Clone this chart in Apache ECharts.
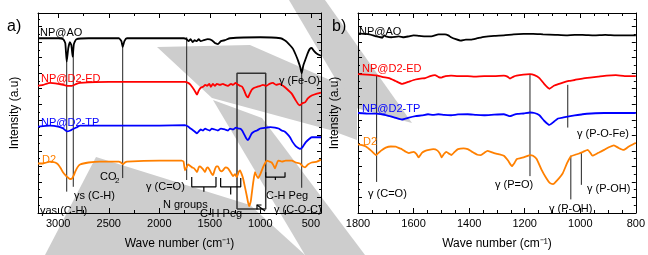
<!DOCTYPE html>
<html>
<head>
<meta charset="utf-8">
<script src="https://cdn.jsdelivr.net/npm/echarts@6/dist/echarts.min.js"></script>
<style>
html, body { margin: 0; padding: 0; background: #fff; }
#chart { width: 648px; height: 255px; }
</style>
</head>
<body>
<div id="chart"></div>
<script>
// FTIR spectra, [wave number, offset intensity]; a) full range, b) 1800-800 zoom
const aoA = [[3200,180],[3000,180],[2950,179],[2930,175],[2916,156],[2900,170],[2885,176],[2870,173],[2857,161],[2845,174],[2820,179],[2700,180],[2400,180],[2375,177],[2362,171],[2345,177],[2320,180],[1760,180],[1729,179],[1710,177],[1690,179],[1670,176],[1650,178],[1630,177],[1610,179],[1590,177],[1560,178],[1520,179],[1480,178],[1450,175],[1420,174],[1390,177],[1350,178],[1300,180],[1000,181],[800,180],[760,178],[736,176],[700,172],[677,169],[650,163],[627,157],[605,150],[591,144],[575,152],[558,157],[530,165],[510,169],[492,170],[470,167],[440,164],[400,162]];
const edA = [[3200,131],[3150,132],[3081,134],[3000,133],[2950,132],[2913,131],[2864,131],[2820,133],[2784,134],[2500,135],[2000,135],[1746,135],[1715,134],[1690,132],[1676,130],[1650,126],[1627,122],[1610,126],[1590,129],[1567,130],[1545,132],[1528,131],[1505,133],[1490,130],[1470,133],[1449,131],[1430,133],[1400,132],[1370,133],[1350,132],[1320,131],[1290,133],[1271,132],[1245,134],[1220,132],[1201,131],[1180,130],[1160,126],[1140,121],[1122,119],[1105,123],[1085,127],[1060,129],[1033,130],[1000,131],[974,132],[940,131],[910,133],[875,134],[845,132],[806,133],[776,131],[740,128],[690,123],[650,116],[625,112],[608,111],[585,113],[558,114],[530,118],[492,121],[440,123],[400,124]];
const tpA = [[3200,89],[3150,89.5],[3081,90],[3000,89],[2950,87],[2913,84],[2880,85],[2864,86],[2820,88],[2784,90],[2500,90],[2000,90],[1746,90.5],[1715,89],[1690,87],[1676,86],[1650,84],[1627,82],[1610,84],[1590,86],[1567,85],[1545,87],[1528,86],[1500,85],[1480,87],[1450,86],[1420,85],[1390,87],[1350,86],[1320,85],[1300,87],[1270,86],[1240,88],[1215,87],[1201,87],[1180,85],[1160,81],[1140,77],[1122,75],[1105,78],[1085,82],[1060,84],[1033,85],[1000,87],[974,87.5],[940,88],[900,88.5],[856,88],[820,87],[790,85],[760,84],[730,81],[707,78],[680,73],[650,69],[625,67],[608,66],[590,67],[570,70],[550,73],[520,76],[492,78],[460,78],[430,78],[400,78]];
const d2A = [[3200,51],[3150,51],[3081,53],[3030,52],[3002,50],[2975,46],[2953,42],[2920,38],[2903,36.5],[2880,35],[2864,35.5],[2845,39],[2834,42],[2810,47],[2784,50],[2700,52],[2587,53],[2400,53],[2380,52],[2359,50],[2340,52],[2319,53],[2000,54],[1780,54],[1760,53],[1746,44],[1730,47],[1716,50],[1700,49],[1676,47],[1655,46],[1640,44],[1627,42],[1610,47],[1597,48],[1575,46],[1560,44],[1548,42],[1532,46],[1518,47],[1500,44],[1485,41],[1469,39],[1450,45],[1435,48],[1419,48],[1400,44],[1385,43],[1370,44],[1345,47],[1320,46],[1295,42],[1271,38],[1250,40],[1234,37],[1215,42],[1201,44],[1185,40],[1172,36],[1155,28],[1135,18],[1112,7],[1095,12],[1085,20],[1070,32],[1053,42],[1040,39],[1023,36],[1000,40],[974,47],[955,51],[937,54],[910,53],[888,52],[870,49],[855,46],[840,50],[825,54],[786,53],[750,54],[690,54],[650,52],[608,51],[580,48],[558,47],[530,50],[492,52],[440,53],[400,55]];

const aoB = [[1800,185],[1780,184.5],[1759,184],[1735,182],[1713,180.5],[1705,183],[1700,182],[1680,181],[1653,182],[1635,181],[1617,182],[1600,183],[1582,182.5],[1560,182],[1536,182],[1510,184],[1487,184],[1475,183],[1465,181],[1448,179],[1430,177.5],[1412,178.5],[1394,178.5],[1370,180],[1346,181.5],[1310,182.5],[1275,183],[1240,184],[1204,184.5],[1170,184.5],[1134,184],[1090,183.5],[1051,183],[1020,183.5],[992,183.5],[950,183],[910,183.5],[872,183],[840,183],[800,183]];
const edB = [[1800,143],[1770,142.5],[1735,141.7],[1710,140],[1688,139],[1665,136],[1642,133],[1620,135],[1593,137.5],[1575,138.5],[1558,139],[1540,141],[1523,142],[1510,140],[1500,139.5],[1485,141],[1465,141.5],[1440,141],[1405,141],[1380,140.5],[1346,141],[1310,141],[1275,141.5],[1262,140.5],[1253,138.5],[1240,140.5],[1229,141.5],[1205,142.5],[1181,143],[1165,142],[1147,139],[1130,133],[1111,128],[1095,131],[1076,133],[1060,134.5],[1041,136],[1020,137],[992,138.5],[965,139.5],[935,140.5],[905,141.5],[872,142],[840,141],[800,141]];
const tpB = [[1800,103],[1770,102.5],[1735,102.3],[1700,100.7],[1670,98.5],[1642,96.3],[1620,98],[1593,99.7],[1570,100.5],[1548,101.7],[1530,101],[1511,101.7],[1490,101],[1465,100.7],[1440,101.5],[1405,101.7],[1375,101],[1346,100.7],[1310,101.3],[1275,101.7],[1262,100.5],[1253,99.7],[1240,101],[1225,102],[1204,102.5],[1181,103.5],[1165,103],[1147,100.7],[1130,95],[1111,90.7],[1095,94],[1080,97.3],[1060,98.5],[1041,99.5],[1020,100.5],[992,101.7],[960,102.5],[914,103],[870,103],[840,103],[800,103]];
const d2B = [[1800,70.7],[1785,70],[1770,68.3],[1752,64],[1735,59.7],[1718,64],[1700,67.3],[1682,68.5],[1664,68.3],[1650,66.5],[1642,65.7],[1628,63],[1617,61.7],[1600,63],[1590,61],[1582,57.3],[1570,62],[1558,64],[1545,65],[1529,65.7],[1515,64.5],[1505,61],[1499,57.3],[1490,61],[1482,63],[1472,61],[1464,59.7],[1452,63],[1440,65.7],[1420,66.5],[1405,65.7],[1392,63.5],[1381,61.7],[1370,60],[1358,59.7],[1345,62],[1334,64],[1322,63],[1310,61.7],[1292,60.5],[1275,59],[1260,54],[1246,48.3],[1236,52],[1228,55.7],[1215,56.5],[1204,57.3],[1192,58.5],[1181,59.7],[1170,59],[1157,55.7],[1140,45],[1122,35.7],[1110,31],[1098,29.7],[1085,33],[1063,41],[1048,51],[1034,58.3],[1018,60],[1004,61.3],[990,63],[973,65],[964,62],[956,59],[935,62],[914,65],[895,68],[879,69.7],[862,67],[844,65],[825,68.5],[800,72.3]];

// band marker lines: [wave number, top, bottom]
const markA = [[2916,157,22],[2851,166,27],[2362,172,36],[1729,181,34],[591,146,26]];
const markB = [[1733,142,32],[1181,143,38],[1045,132,88],[1034,59,14],[996,62,29]];
// boxed region of a): [x1, x2, y1, y2]
const boxA = [1231, 947, 4, 144];
// brackets: [x1, x2, top, bottom, stem]
const bracketsA = [[1679,1439,37,27,22],[1393,1194,36,27,19],[947,756,42,37,34]];

const FONT = '"Liberation Sans", Arial, sans-serif';
const BLACK = '#000000', RED = '#ff0000', BLUE = '#0000ff', ORANGE = '#ff8000';

// text annotations: [text, x, y, colour, size]
const labels = [
  ['a)', 7, 27, BLACK, 16], ['b)', 332, 27, BLACK, 16],
  ['NP@AO', 40, 33, BLACK], ['NP@D2-ED', 41, 79, RED], ['NP@D2-TP', 41, 123, BLUE], ['D2', 42, 160, ORANGE],
  ['CO', 100, 177, BLACK], ['2', 115, 181, BLACK, 8],
  ['γs (C-H)', 74, 196, BLACK], ['γas (C-H)', 40, 211, BLACK], ['γ (C=O)', 146, 187, BLACK],
  ['N groups', 163, 205, BLACK], ['C-H Peg', 200, 214, BLACK], ['C-H Peg', 266, 196, BLACK],
  ['γ (C-O-C)', 274, 210, BLACK], ['γ (Fe-O)', 279, 81, BLACK],
  ['NP@AO', 359, 32, BLACK], ['NP@D2-ED', 362, 69, RED], ['NP@D2-TP', 362, 109, BLUE], ['D2', 363, 142, ORANGE],
  ['γ (C=O)', 368, 194, BLACK], ['γ (P=O)', 495, 185, BLACK], ['γ (P-O-Fe)', 577, 134, BLACK],
  ['γ (P-OH)', 549, 209, BLACK], ['γ (P-OH)', 587, 189, BLACK]
];

// grey watermark behind the plot
const watermark = [
  [[289,0],[325,0],[412,123],[352,107]],
  [[157,47],[250,45],[330,80],[357,95],[357,140],[330,130],[212,98]],
  [[213,100],[262,118],[365,255],[305,255]],
  [[45,255],[96,157],[250,205],[305,255]]
];

const chart = echarts.init(document.getElementById('chart'));

function spectrum (data, color, idx) {
  return { type: 'line', xAxisIndex: idx, yAxisIndex: idx, data: data, showSymbol: false, symbol: 'none',
    smooth: 0.15, lineStyle: { color: color, width: 1.8 }, z: 5, silent: true };
}
function path (data, idx, color, width) {
  return { type: 'line', xAxisIndex: idx, yAxisIndex: idx, data: data, showSymbol: false, symbol: 'none',
    lineStyle: { color: color || '#222', width: width || 1 }, z: 4, silent: true };
}

function xAxis (idx, min, max, pos, minor, showEnds) {
  return {
    type: 'value', gridIndex: idx, min: min, max: max, inverse: true, position: pos,
    axisLine: { show: true, onZero: false, lineStyle: { color: '#000', width: 1 } },
    axisTick: { show: true, inside: true, length: 5, lineStyle: { color: '#000' } },
    minorTick: { show: true, splitNumber: minor, length: 3, lineStyle: { color: '#000' } },
    axisLabel: pos === 'bottom'
      ? { show: true, color: '#000', fontSize: 11, fontFamily: FONT, margin: 5, showMinLabel: showEnds, showMaxLabel: showEnds,
          formatter: function (v) { return String(v); } }
      : { show: false },
    splitLine: { show: false },
    name: pos === 'bottom' ? 'Wave number (cm⁻¹)' : '',
    nameLocation: 'middle', nameGap: 25,
    nameTextStyle: { color: '#000', fontSize: 12, fontFamily: FONT }
  };
}
function yAxis (idx, pos) {
  return {
    type: 'value', gridIndex: idx, min: 0, max: 206, interval: 16, position: pos,
    axisLine: { show: true, onZero: false, lineStyle: { color: '#000', width: 1 } },
    axisTick: { show: true, inside: true, length: 4, lineStyle: { color: '#000' } },
    minorTick: { show: true, splitNumber: 2, length: 2, lineStyle: { color: '#000' } },
    axisLabel: { show: false },
    splitLine: { show: false },
    name: pos === 'left' ? 'Intensity (a.u)' : '',
    nameLocation: 'middle', nameGap: 17,
    nameTextStyle: { color: '#000', fontSize: 12, fontFamily: FONT }
  };
}

const series = [
  spectrum(aoA, BLACK, 0), spectrum(edA, RED, 0), spectrum(tpA, BLUE, 0), spectrum(d2A, ORANGE, 0),
  spectrum(aoB, BLACK, 1), spectrum(edB, RED, 1), spectrum(tpB, BLUE, 1), spectrum(d2B, ORANGE, 1)
];
markA.forEach(function (m) { series.push(path([[m[0], m[1]], [m[0], m[2]]], 0)); });
markB.forEach(function (m) { series.push(path([[m[0], m[1]], [m[0], m[2]]], 1)); });
series.push(path([[boxA[0], boxA[2]], [boxA[1], boxA[2]], [boxA[1], boxA[3]], [boxA[0], boxA[3]], [boxA[0], boxA[2]]], 0, '#333', 1.5));
bracketsA.forEach(function (b) {
  const c = (b[0] + b[1]) / 2;
  series.push(path([[b[0], b[2]], [b[0], b[3]], [c, b[3]], [c, b[4]], [c, b[3]], [b[1], b[3]], [b[1], b[2]]], 0, '#000', 1.2));
});

const graphic = watermark.map(function (pts) {
  return { type: 'polygon', shape: { points: pts }, style: { fill: '#cdcdcd' }, z: -1, silent: true };
});
labels.forEach(function (l) {
  graphic.push({ type: 'text', x: l[1], y: l[2], z: 10, silent: true,
    style: { text: l[0], fill: l[3], font: (l[4] || 11) + 'px ' + FONT, align: 'left', verticalAlign: 'middle' } });
});
// little arrow inside the box
graphic.push({ type: 'polyline', shape: { points: [[265, 211], [257, 205]] }, style: { stroke: '#000', lineWidth: 1.2 }, z: 10 });
graphic.push({ type: 'polyline', shape: { points: [[257, 209.5], [257, 205], [261.5, 205]] }, style: { stroke: '#000', lineWidth: 1.2, fill: null }, z: 10 });

chart.setOption({
  animation: false,
  backgroundColor: '#ffffff',
  grid: [
    { left: 38, top: 13, width: 283, height: 206 },
    { left: 358, top: 13, width: 283, height: 206 }
  ],
  xAxis: [
    xAxis(0, 400, 3200, 'bottom', 2, false), xAxis(1, 800, 1800, 'bottom', 4, true),
    xAxis(0, 400, 3200, 'top', 2, false), xAxis(1, 800, 1800, 'top', 4, true)
  ],
  yAxis: [yAxis(0, 'left'), yAxis(1, 'left'), yAxis(0, 'right'), yAxis(1, 'right')],
  graphic: graphic,
  series: series
});
</script>
</body>
</html>
